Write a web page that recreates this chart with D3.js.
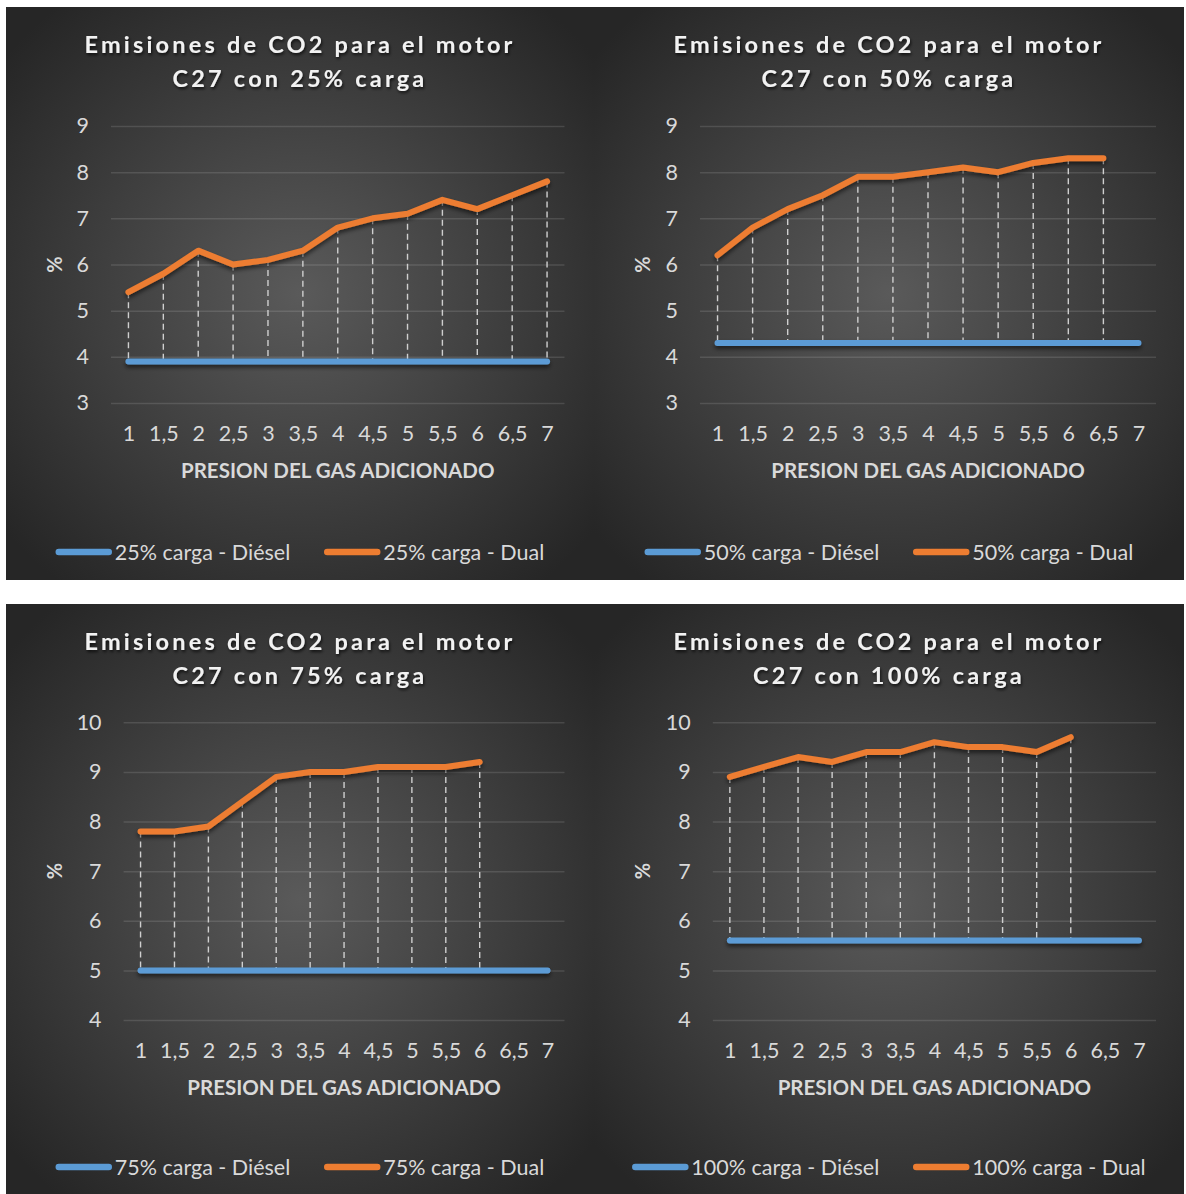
<!DOCTYPE html>
<html>
<head>
<meta charset="utf-8">
<script src="https://cdn.jsdelivr.net/npm/d3@7"></script>
<style>
  body { margin: 0; background: #ffffff; }
  svg { display: block; }
</style>
</head>
<body>
<svg id="chart" width="1186" height="1194"></svg>
<script>
// Gas pressure categories on the x axis
const pressureLabels = ["1", "1,5", "2", "2,5", "3", "3,5", "4", "4,5", "5", "5,5", "6", "6,5", "7"];

// CO2 emissions (%) for engine C27, per load level
const diesel25 = [3.9, 3.9, 3.9, 3.9, 3.9, 3.9, 3.9, 3.9, 3.9, 3.9, 3.9, 3.9, 3.9];
const dual25   = [5.4, 5.8, 6.3, 6.0, 6.1, 6.3, 6.8, 7.0, 7.1, 7.4, 7.2, 7.5, 7.8];

const diesel50 = [4.3, 4.3, 4.3, 4.3, 4.3, 4.3, 4.3, 4.3, 4.3, 4.3, 4.3, 4.3, 4.3];
const dual50   = [6.2, 6.8, 7.2, 7.5, 7.9, 7.9, 8.0, 8.1, 8.0, 8.2, 8.3, 8.3];

const diesel75 = [5.0, 5.0, 5.0, 5.0, 5.0, 5.0, 5.0, 5.0, 5.0, 5.0, 5.0, 5.0, 5.0];
const dual75   = [7.8, 7.8, 7.9, 8.4, 8.9, 9.0, 9.0, 9.1, 9.1, 9.1, 9.2];

const diesel100 = [5.6, 5.6, 5.6, 5.6, 5.6, 5.6, 5.6, 5.6, 5.6, 5.6, 5.6, 5.6, 5.6];
const dual100   = [8.9, 9.1, 9.3, 9.2, 9.4, 9.4, 9.6, 9.5, 9.5, 9.4, 9.7];

// y axis tick values
const yTicksLow  = [3, 4, 5, 6, 7, 8, 9];
const yTicksHigh = [4, 5, 6, 7, 8, 9, 10];

const loadLabels = ["25%", "50%", "75%", "100%"];

// Panel placement (positions relative to page; plot box relative to panel)
const layout = [
  { x: 6,   y: 7,   w: 588, h: 573, plot: { l: 105,   r: 558.5, t: 119,   b: 396 }, legendY: 545 },
  { x: 594, y: 7,   w: 590, h: 573, plot: { l: 106,   r: 562,   t: 119,   b: 396 }, legendY: 545 },
  { x: 6,   y: 604, w: 588, h: 590, plot: { l: 117.6, r: 558.5, t: 118.3, b: 416 }, legendY: 563 },
  { x: 594, y: 604, w: 590, h: 590, plot: { l: 118.8, r: 562,   t: 118.3, b: 416 }, legendY: 563 }
];

const seriesByPanel = [
  { diesel: diesel25,  dual: dual25,  ticks: yTicksLow },
  { diesel: diesel50,  dual: dual50,  ticks: yTicksLow },
  { diesel: diesel75,  dual: dual75,  ticks: yTicksHigh },
  { diesel: diesel100, dual: dual100, ticks: yTicksHigh }
];

const BLUE = "#5b9bd5";
const ORANGE = "#ed7d31";
const FONT = "Lato, 'Open Sans', sans-serif";

const svg = d3.select("#chart");
const defs = svg.append("defs");

const grad = defs.append("radialGradient")
  .attr("id", "panelBg")
  .attr("cx", "50%").attr("cy", "50%").attr("r", "65%");
grad.append("stop").attr("offset", "0%").attr("stop-color", "#5a5a5a");
grad.append("stop").attr("offset", "100%").attr("stop-color", "#262626");

// shadow filter in user space so flat (zero-height) paths still render
const lineShadow = defs.append("filter").attr("id", "lineShadow")
  .attr("filterUnits", "userSpaceOnUse")
  .attr("x", -50).attr("y", -50).attr("width", 700).attr("height", 700);
lineShadow.append("feDropShadow")
  .attr("dx", 0).attr("dy", 3).attr("stdDeviation", 2)
  .attr("flood-color", "#000").attr("flood-opacity", 0.55);

const textShadow = defs.append("filter").attr("id", "textShadow")
  .attr("x", "-5%").attr("y", "-30%").attr("width", "110%").attr("height", "160%");
textShadow.append("feDropShadow")
  .attr("dx", 1).attr("dy", 2).attr("stdDeviation", 1.5)
  .attr("flood-color", "#000").attr("flood-opacity", 0.7);

layout.forEach((L, i) => {
  const S = seriesByPanel[i];
  const load = loadLabels[i];
  const g = svg.append("g").attr("transform", `translate(${L.x},${L.y})`);

  g.append("rect")
    .attr("width", L.w).attr("height", L.h)
    .attr("fill", "url(#panelBg)");

  const x = d3.scalePoint()
    .domain(pressureLabels)
    .range([L.plot.l, L.plot.r])
    .padding(0.5);

  const y = d3.scaleLinear()
    .domain(d3.extent(S.ticks))
    .range([L.plot.b, L.plot.t]);

  // horizontal gridlines
  g.append("g")
    .attr("transform", `translate(${L.plot.l},0)`)
    .call(d3.axisLeft(y).tickValues(S.ticks).tickSize(-(L.plot.r - L.plot.l)).tickFormat(""))
    .call(a => a.select(".domain").remove())
    .call(a => a.selectAll("line")
      .attr("stroke", "#ffffff").attr("stroke-opacity", 0.12).attr("stroke-width", 1.5));

  // y tick labels
  g.append("g")
    .attr("transform", `translate(${L.plot.l},0)`)
    .call(d3.axisLeft(y).tickValues(S.ticks).tickSize(0).tickPadding(22).tickFormat(d3.format("d")))
    .call(a => a.select(".domain").remove())
    .call(a => a.selectAll("text")
      .attr("fill", "#d9d9d9").style("font-family", FONT).style("font-size", "21.5px"));

  // x tick labels
  g.append("g")
    .attr("transform", `translate(0,${L.plot.b})`)
    .call(d3.axisBottom(x).tickSize(0).tickPadding(23))
    .call(a => a.select(".domain").remove())
    .call(a => a.selectAll("text")
      .attr("fill", "#d9d9d9").style("font-family", FONT).style("font-size", "21.5px"));

  // high-low lines between the two series
  const pairs = S.dual.map((v, k) => ({ cat: pressureLabels[k], hi: v, lo: S.diesel[k] }));
  g.append("g").selectAll("line")
    .data(pairs)
    .join("line")
    .attr("x1", d => x(d.cat)).attr("x2", d => x(d.cat))
    .attr("y1", d => y(d.hi)).attr("y2", d => y(d.lo))
    .attr("stroke", "#cfcfcf").attr("stroke-width", 1.4)
    .attr("stroke-dasharray", "6,4");

  const line = d3.line()
    .x(d => x(d.cat))
    .y(d => y(d.v));

  const dieselPts = S.diesel.map((v, k) => ({ cat: pressureLabels[k], v }));
  const dualPts = S.dual.map((v, k) => ({ cat: pressureLabels[k], v }));

  g.append("path")
    .datum(dieselPts)
    .attr("d", line)
    .attr("fill", "none").attr("stroke", BLUE).attr("stroke-width", 6)
    .attr("stroke-linecap", "round").attr("stroke-linejoin", "round")
    .attr("filter", "url(#lineShadow)");

  g.append("path")
    .datum(dualPts)
    .attr("d", line)
    .attr("fill", "none").attr("stroke", ORANGE).attr("stroke-width", 6)
    .attr("stroke-linecap", "round").attr("stroke-linejoin", "round")
    .attr("filter", "url(#lineShadow)");

  // title
  const title = g.append("text")
    .attr("text-anchor", "middle")
    .attr("fill", "#f2f2f2")
    .style("font-family", FONT).style("font-size", "23.5px").style("font-weight", "700")
    .style("letter-spacing", "3.2px")
    .attr("filter", "url(#textShadow)");
  title.append("tspan").attr("x", L.w / 2).attr("y", 46).text("Emisiones de CO2 para el motor");
  title.append("tspan").attr("x", L.w / 2).attr("y", 80).text(`C27 con ${load} carga`);

  // y axis title
  g.append("text")
    .attr("transform", `translate(${49},${(L.plot.t + L.plot.b) / 2}) rotate(-90)`)
    .attr("text-anchor", "middle").attr("dy", "0.35em")
    .attr("fill", "#d9d9d9")
    .style("font-family", FONT).style("font-size", "20px").style("font-weight", "700")
    .text("%");

  // x axis title
  g.append("text")
    .attr("x", (L.plot.l + L.plot.r) / 2)
    .attr("y", L.plot.b + 68)
    .attr("text-anchor", "middle").attr("dy", "0.35em")
    .attr("fill", "#d9d9d9")
    .style("font-family", FONT).style("font-size", "20.5px").style("font-weight", "700")
    .text("PRESION DEL GAS ADICIONADO");

  // legend
  const items = [
    { label: `${load} carga - Diésel`, color: BLUE },
    { label: `${load} carga - Dual`, color: ORANGE }
  ];
  const leg = g.append("g");
  const swatch = 56, gapText = 3, gapItem = 34;
  let cursor = 0;
  items.forEach((it, k) => {
    if (k > 0) cursor += gapItem;
    leg.append("line")
      .attr("x1", cursor + 3).attr("x2", cursor + swatch - 3)
      .attr("y1", 0).attr("y2", 0)
      .attr("stroke", it.color).attr("stroke-width", 6.5).attr("stroke-linecap", "round");
    cursor += swatch + gapText;
    const t = leg.append("text")
      .attr("x", cursor).attr("y", 0).attr("dy", "0.35em")
      .attr("fill", "#d9d9d9")
      .style("font-family", FONT).style("font-size", "21.5px")
      .text(it.label);
    cursor += t.node().getComputedTextLength();
  });
  leg.attr("transform", `translate(${(L.w - cursor) / 2},${L.legendY})`);
});
</script>
</body>
</html>
